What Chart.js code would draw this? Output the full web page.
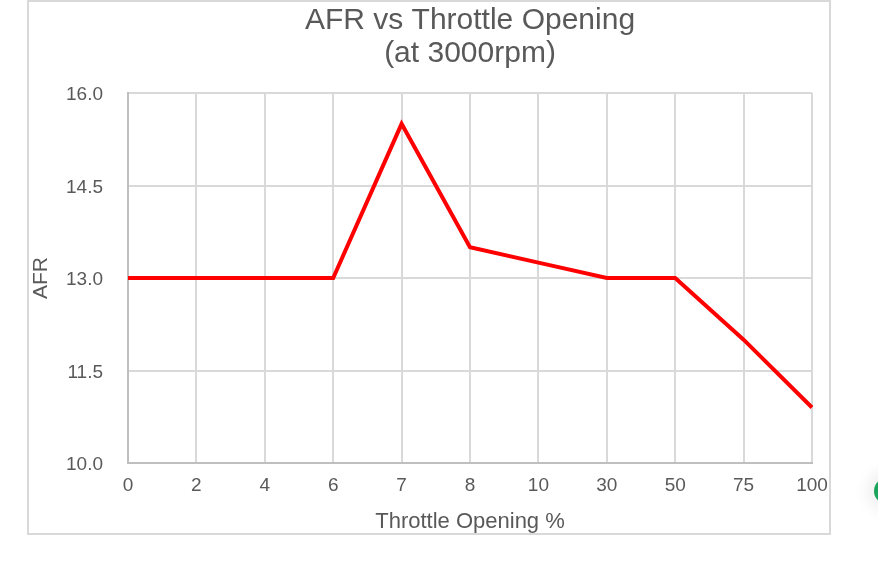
<!DOCTYPE html>
<html>
<head>
<meta charset="utf-8">
<script src="https://cdn.jsdelivr.net/npm/chart.js@4.4.0/dist/chart.umd.min.js"></script>
<style>
  html, body { margin: 0; padding: 0; background: #fff; overflow: hidden; }
  #wrap { position: absolute; left: 0; top: 0; width: 878px; height: 567px; }
  #box { position: absolute; left: 27px; top: 0px; width: 800px; height: 531px; border: 2px solid #d9d9d9; box-sizing: content-box; }
  #dot { position: absolute; left: 874px; top: 478px; width: 26px; height: 26px; border-radius: 50%; background: #1aa35a; box-shadow: 0 0 14px 8px rgba(0,0,0,0.06); }
</style>
</head>
<body>
<div id="wrap">
  <div id="box"></div>
  <canvas id="afrChart" width="878" height="567"></canvas>
  <div id="dot"></div>
</div>
<script>
// datos
var aperturas = ['0', '2', '4', '6', '7', '8', '10', '30', '50', '75', '100'];
var valoresAFR = [13.0, 13.0, 13.0, 13.0, 15.5, 13.5, 13.25, 13.0, 13.0, 12.0, 10.9];
var ticksAFR = [10.0, 11.5, 13.0, 14.5, 16.0];

var gris = '#595959';
var fuente = 'Liberation Sans, Arial, Helvetica, sans-serif';

var ctx = document.getElementById('afrChart').getContext('2d');

new Chart(ctx, {
  type: 'line',
  data: {
    labels: aperturas,
    datasets: [{
      label: 'AFR',
      data: valoresAFR,
      borderColor: '#ff0000',
      backgroundColor: '#ff0000',
      borderWidth: 4,
      pointRadius: 0,
      tension: 0,
      fill: false
    }]
  },
  options: {
    responsive: false,
    animation: false,
    layout: { padding: { left: 27, right: 66, top: 0, bottom: 32 } },
    plugins: {
      legend: { display: false },
      tooltip: { enabled: false },
      title: {
        display: true,
        fullSize: false,
        text: ['AFR vs Throttle Opening', '(at 3000rpm)'],
        color: gris,
        font: { family: fuente, size: 30, weight: 'normal', lineHeight: 1.1 },
        padding: { top: 4, bottom: 23 }
      }
    },
    scales: {
      x: {
        offset: false,
        grid: { color: '#d9d9d9', lineWidth: 2, drawTicks: false },
        border: { color: '#bfbfbf', width: 2 },
        ticks: { color: gris, font: { family: fuente, size: 19 }, padding: 11, maxRotation: 0 },
        title: {
          display: true,
          text: 'Throttle Opening %',
          color: gris,
          font: { family: fuente, size: 22 },
          padding: { top: 0, bottom: 0 }
        },
        afterFit: function(scale) { scale.height = 72; }
      },
      y: {
        min: 10,
        max: 16,
        afterBuildTicks: function(scale) {
          scale.ticks = ticksAFR.map(function(v) { return { value: v }; });
        },
        grid: { color: '#d9d9d9', lineWidth: 2, drawTicks: false },
        border: { color: '#bfbfbf', width: 2 },
        ticks: {
          color: gris,
          font: { family: fuente, size: 19 },
          padding: 25,
          labelOffset: 2,
          callback: function(v) { return Number(v).toFixed(1); }
        },
        title: {
          display: true,
          text: 'AFR',
          color: gris,
          font: { family: fuente, size: 21 },
          padding: { top: 2, bottom: 0 }
        },
        afterFit: function(scale) { scale.width = 101; }
      }
    }
  }
});
</script>
</body>
</html>
